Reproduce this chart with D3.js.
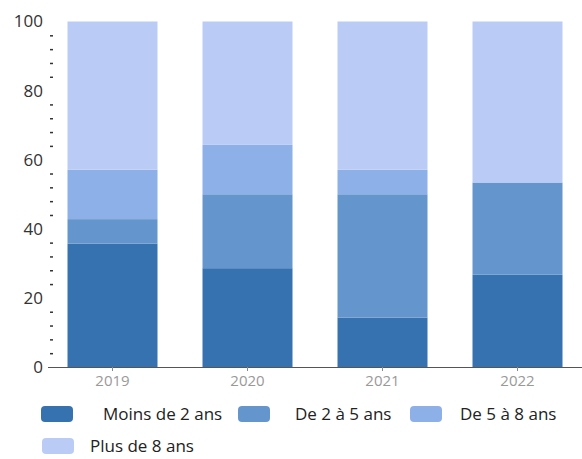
<!DOCTYPE html>
<html>
<head>
<meta charset="utf-8">
<script src="https://cdn.jsdelivr.net/npm/d3@7"></script>
<style>
  html, body { margin: 0; padding: 0; background: #fff; }
  svg { display: block; font-family: "Open Sans", sans-serif; }
</style>
</head>
<body>
<svg id="chart" width="582" height="459"></svg>
<script>
// ---- data ----
const categories = ["2019", "2020", "2021", "2022"];
const seriesNames = ["Moins de 2 ans", "De 2 à 5 ans", "De 5 à 8 ans", "Plus de 8 ans"];
const moinsDe2 = [35.7, 28.6, 14.3, 26.7];
const de2a5 = [7.1, 21.4, 35.7, 26.7];
const de5a8 = [14.3, 14.3, 7.1, 0];
const plusDe8 = [42.9, 35.7, 42.9, 46.6];
const yTickLabels = [0, 20, 40, 60, 80, 100];
const colors = ["#3672b0", "#6496cd", "#8eb0e8", "#baccf5"];

// ---- build table ----
const seriesValues = [moinsDe2, de2a5, de5a8, plusDe8];
const keys = seriesNames;
const table = categories.map((c, i) => {
  const row = { cat: c };
  keys.forEach((k, j) => row[k] = seriesValues[j][i]);
  return row;
});
const stacked = d3.stack().keys(keys)(table);

const svg = d3.select("#chart");

const x = d3.scaleBand().domain(categories).range([45, 585])
  .paddingInner(1 / 3).paddingOuter(1 / 6);
const y = d3.scaleLinear().domain([0, 100]).range([367, 21.5]);
const color = d3.scaleOrdinal().domain(keys).range(colors);

// bars
svg.append("g").selectAll("g").data(stacked).join("g")
  .attr("fill", d => color(d.key))
  .selectAll("rect").data(d => d).join("rect")
  .attr("x", d => x(d.data.cat))
  .attr("width", x.bandwidth())
  .attr("y", d => y(d[1]))
  .attr("height", d => y(d[0]) - y(d[1]));

// y axis: minor ticks every 4, labels every 20
const minor = d3.range(0, 101, 4).filter(v => v % 20 !== 0);
const yAxisG = svg.append("g").attr("transform", "translate(53,0)");
yAxisG.call(d3.axisLeft(y).tickValues(minor).tickSize(3).tickFormat(""))
  .call(g => g.select(".domain").remove())
  .call(g => g.selectAll(".tick line").attr("stroke", "#333").attr("stroke-width", 1.5));
svg.append("g").selectAll("text").data(yTickLabels).join("text")
  .attr("x", 43)
  .attr("y", d => y(d))
  .attr("dy", "0.35em")
  .attr("text-anchor", "end")
  .attr("fill", "#333")
  .attr("font-size", 17)
  .text(d => d);

// x axis
const xAxisG = svg.append("g").attr("transform", "translate(0,367)");
xAxisG.call(d3.axisBottom(x).tickSize(4).tickSizeOuter(0).tickPadding(4))
  .call(g => g.select(".domain").attr("d", "M48,0.5H582").attr("stroke", "#555"))
  .call(g => g.selectAll(".tick line").attr("stroke", "#888"))
  .call(g => g.selectAll(".tick text").attr("fill", "#999").attr("font-size", 15)
    .attr("font-family", "Open Sans, sans-serif"));

// legend
const legendLayout = [
  { sx: 41, tx: 103, cy: 414 },
  { sx: 238, tx: 295, cy: 414 },
  { sx: 410, tx: 460, cy: 414 },
  { sx: 42, tx: 90, cy: 446 }
];
const leg = svg.append("g").selectAll("g").data(keys).join("g");
leg.append("rect")
  .attr("x", (d, i) => legendLayout[i].sx)
  .attr("y", (d, i) => legendLayout[i].cy - 8)
  .attr("width", 32).attr("height", 16).attr("rx", 4)
  .attr("fill", d => color(d));
leg.append("text")
  .attr("x", (d, i) => legendLayout[i].tx)
  .attr("y", (d, i) => legendLayout[i].cy)
  .attr("dy", "0.35em")
  .attr("font-size", 17)
  .attr("fill", "#222")
  .text(d => d);
</script>
</body>
</html>
